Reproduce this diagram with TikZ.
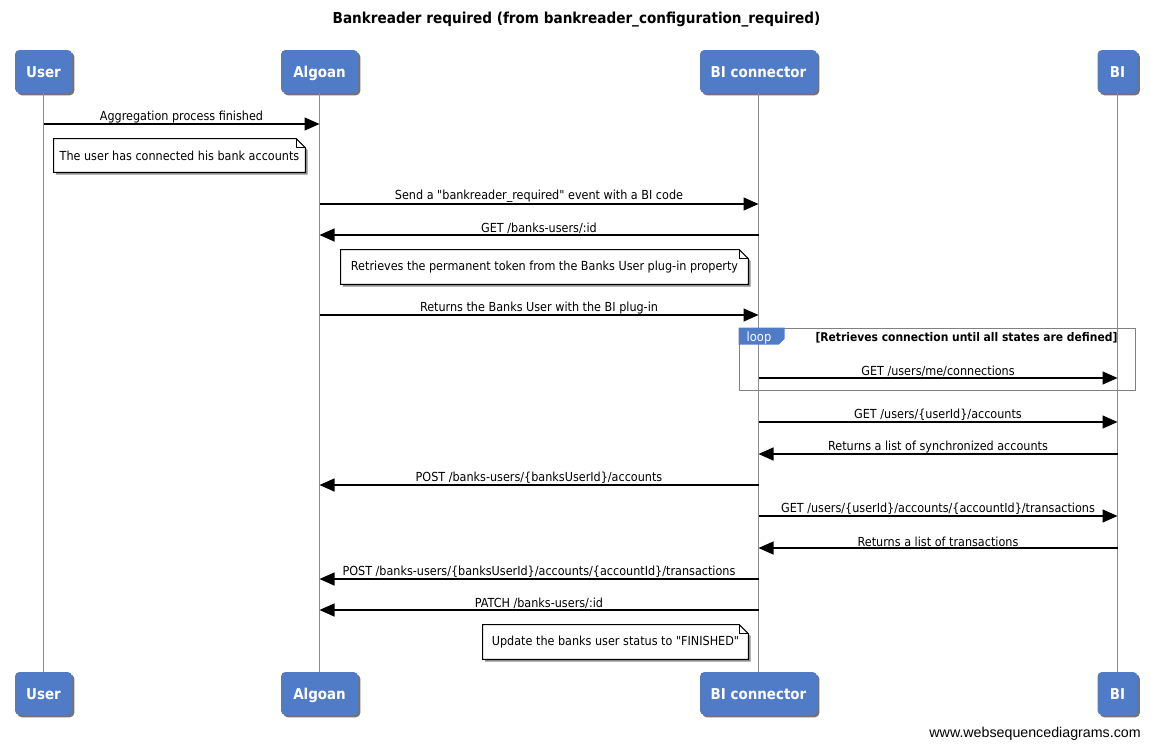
\documentclass[tikz,border=0pt]{standalone}
\usepackage{fontspec}
\setmainfont{DejaVu Sans Condensed}[Ligatures=TeXOff]
\newfontfamily\sitefont{Liberation Sans}
\usetikzlibrary{arrows.meta,shadows,calc,backgrounds}
\definecolor{wsdblue}{RGB}{80,123,198}
\definecolor{linegray}{RGB}{140,140,140}
\definecolor{framegray}{RGB}{128,128,128}

\tikzset{
    actor/.style={rounded corners=2.5pt, fill=wsdblue, text=white, inner sep=0pt,
        minimum height=0.86cm, text height=8.6pt, text depth=1.7pt,
        font=\fontsize{8.5}{10}\selectfont\bfseries,
        drop shadow={shadow xshift=1.3pt, shadow yshift=-1.3pt, fill=black, opacity=0.55}},
    lifeline/.style={draw=linegray, line width=1pt},
    msg/.style={line width=0.85pt, -{Triangle[length=0.3cm, width=0.26cm]}},
    msglabel/.style={above, inner sep=0.2pt, font=\fontsize{7.1}{8}\selectfont},
    notetext/.style={inner sep=0pt, font=\fontsize{7.1}{8}\selectfont},
}
% note outline with folded corner
\newcommand\dognote[1]{%
    \filldraw[fill=white, line width=0.6pt,
        drop shadow={shadow xshift=1.3pt, shadow yshift=-1.3pt, fill=black, opacity=0.45}]
        (#1.north west) -- ($(#1.north east)+(-9,0)$) -- ($(#1.north east)+(0,9)$)
        -- (#1.south east) -- (#1.south west) -- cycle;
    \draw[line width=0.6pt] ($(#1.north east)+(-9,0)$) |- ($(#1.north east)+(0,9)$);
}

\begin{document}
\begin{tikzpicture}[x=0.02cm, y=-0.02cm]
    \useasboundingbox (0,0) rectangle (1151,750);
    % Title
    \node[font=\fontsize{8.6}{10}\selectfont\bfseries] (title) at (576.5,20)
        {Bankreader required (from bankreader\_configuration\_required)};
    % Participants, top and bottom
    \foreach \name/\xpos/\boxw/\txt in {u/43.5/57/User, a/319.5/77/Algoan,
            c/758.5/117/BI connector, b/1117.5/40/BI} {
        \node[actor, minimum width=\boxw*0.02cm] (\name) at (\xpos,71.5) {\txt};
        \node[actor, minimum width=\boxw*0.02cm] (\name-bot) at (\xpos,693.5) {\txt};
    }
    \foreach \name in {u,a,c,b}
        \draw[lifeline] (\name) -- (\name-bot);
    % Messages
    \foreach \src/\dst/\ypos/\txt in {
            u/a/124/{Aggregation process finished},
            a/c/204/{Send a "bankreader\_required" event with a BI code},
            c/a/235/{GET /banks-users/:id},
            a/c/315/{Returns the Banks User with the BI plug-in},
            c/b/378/{GET /users/me/connections},
            c/b/422/{GET /users/\{userId\}/accounts},
            b/c/454/{Returns a list of synchronized accounts},
            c/a/485/{POST /banks-users/\{banksUserId\}/accounts},
            c/b/516/{GET /users/\{userId\}/accounts/\{accountId\}/transactions},
            b/c/548/{Returns a list of transactions},
            c/a/579/{POST /banks-users/\{banksUserId\}/accounts/\{accountId\}/transactions},
            c/a/610/{PATCH /banks-users/:id}} {
        \draw[msg] (\src |- 0,\ypos) -- node[msglabel] {\txt} (\dst |- 0,\ypos);
    }
    % Notes
    \node[notetext, minimum width=251*0.02cm, minimum height=33*0.02cm] (n1) at (179.5,155.5)
        {The user has connected his bank accounts};
    \node[notetext, minimum width=407*0.02cm, minimum height=34*0.02cm] (n2) at (544.5,267)
        {Retrieves the permanent token from the Banks User plug-in property};
    \node[notetext, minimum width=265*0.02cm, minimum height=34*0.02cm] (n3) at (615.5,642)
        {Update the banks user status to "FINISHED"};
    \begin{scope}[on background layer]
        \dognote{n1}
        \dognote{n2}
        \dognote{n3}
    \end{scope}
    % Loop frame
    \node[draw=framegray, line width=0.9pt, inner sep=0pt,
        minimum width=396*0.02cm, minimum height=62*0.02cm] (loopframe) at (937.5,359.5) {};
    \fill[wsdblue] (loopframe.north west) -- ++(46,0) -- ++(0,11) -- ++(-6,6) -| cycle;
    \node[text=white, font=\fontsize{7.3}{8}\selectfont] (looptag) at (759,337.5) {loop};
    \node[font=\fontsize{6.8}{8}\selectfont\bfseries] (loopcond) at (966.5,338)
        {[Retrieves connection until all states are defined]};
    % Footer
    \node[anchor=east, inner sep=0pt, font=\sitefont\fontsize{8.1}{9}\selectfont] (site) at (1141,734)
        {www.websequencediagrams.com};
\end{tikzpicture}
\end{document}
